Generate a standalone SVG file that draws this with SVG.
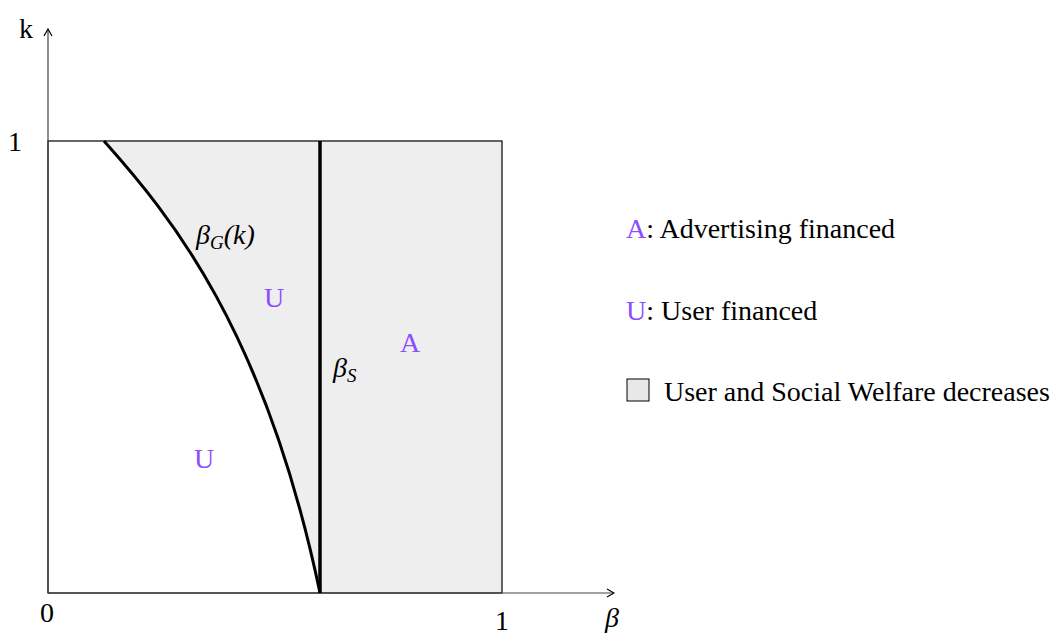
<svg xmlns="http://www.w3.org/2000/svg" width="1064" height="637" viewBox="0 0 1064 637">
<style>
text{font-family:"Liberation Serif","DejaVu Serif",serif;fill:#000}
.lbl{font-size:28px}
.it{font-style:italic}
.pur{fill:#8c4dff}
.ax{stroke:#444;stroke-width:1.2;fill:none}
</style>
<defs>
<marker id="arr" viewBox="0 0 10 10" refX="9" refY="5" markerWidth="10" markerHeight="10" markerUnits="userSpaceOnUse" orient="auto">
<path d="M2,1 L9,5 L2,9" fill="none" stroke="#000" stroke-width="1.2"/>
</marker>
</defs>
<rect width="1064" height="637" fill="#fff"/>
<g id="regions">
<path d="M104,141 C170,215 265,330 320,593 L502,593 L502,141 Z" fill="#eeeeee"/>
<rect x="48" y="141" width="454" height="452" fill="none" stroke="#000" stroke-width="1.2"/>
</g>
<g id="connectors">
<line class="ax" x1="48" y1="593" x2="48" y2="29" marker-end="url(#arr)"/>
<line class="ax" x1="48" y1="593" x2="614" y2="593" marker-end="url(#arr)"/>
<path d="M104,141 C170,215 265,330 320,593" fill="none" stroke="#000" stroke-width="3"/>
<line x1="320" y1="141" x2="320" y2="593" stroke="#000" stroke-width="3.5"/>
</g>
<g id="axis-labels">
<text class="lbl" x="19" y="38" font-size="30">k</text>
<text class="lbl" x="8" y="151">1</text>
<text class="lbl" x="40" y="622">0</text>
<text class="lbl" x="495" y="630">1</text>
<text class="lbl it" x="605" y="627">β</text>
</g>
<g id="curve-labels">
<text class="lbl it" x="196" y="244">β<tspan font-size="19" dy="5">G</tspan><tspan dy="-5">(k)</tspan></text>
<text class="lbl it" x="333" y="377">β<tspan font-size="19" dy="5">S</tspan></text>
</g>
<g id="region-labels">
<text class="lbl pur" x="264" y="307">U</text>
<text class="lbl pur" x="194" y="468">U</text>
<text class="lbl pur" x="400" y="352">A</text>
</g>
<g id="legend">
<text class="lbl" x="626" y="238"><tspan class="pur">A</tspan>: Advertising financed</text>
<text class="lbl" x="626" y="320"><tspan class="pur">U</tspan>: User financed</text>
<rect x="627" y="379" width="22" height="22" fill="#e8e8e8" stroke="#000" stroke-width="1"/>
<text class="lbl" x="664" y="401">User and Social Welfare decreases</text>
</g>
</svg>
